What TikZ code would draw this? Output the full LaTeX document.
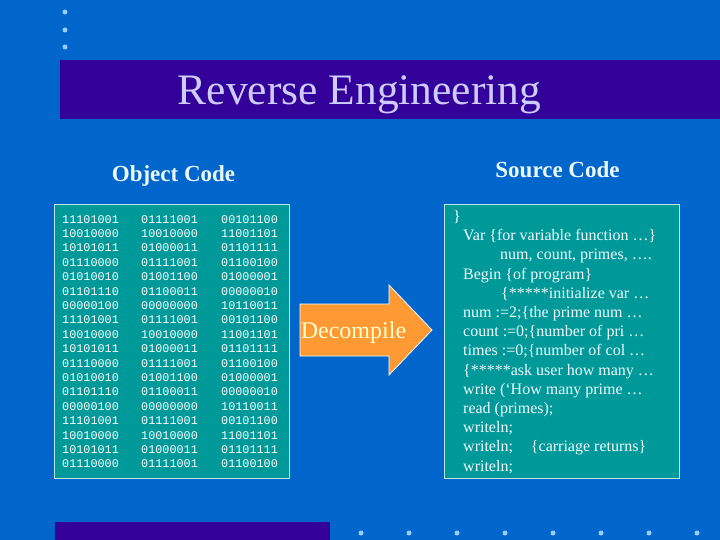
\documentclass[tikz,border=0pt]{standalone}
\usepackage{fontspec}
\setmainfont{Liberation Serif}
\setmonofont{Liberation Mono}
\usetikzlibrary{positioning}
\definecolor{slideblue}{RGB}{0, 102, 204}
\definecolor{bandpurple}{RGB}{51, 0, 153}
\definecolor{boxteal}{RGB}{0, 153, 153}
\definecolor{arroworange}{RGB}{255, 153, 51}
\definecolor{titlelav}{RGB}{204, 204, 255}
\definecolor{dotblue}{RGB}{153, 204, 255}
\definecolor{paleyellow}{RGB}{255, 255, 204}

\begin{document}
\begin{tikzpicture}[x=1pt, y=-1pt,
    codebox/.style={draw=white!75!boxteal, fill=boxteal, line width=0.8pt, minimum width=235pt, minimum height=274pt, anchor=north west, inner sep=0pt},
    heading/.style={font=\fontsize{23}{28}\selectfont\bfseries, text=white!92!cyan, anchor=base, inner sep=0pt},
    bitrow/.style={font=\ttfamily\fontsize{11.8}{14}\selectfont, text=white, anchor=base west, inner sep=0pt},
    srcline/.style={font=\fontsize{16}{19}\selectfont, text=white!94!cyan, anchor=base west, inner sep=0pt},
    dotmark/.style={circle, fill=dotblue, inner sep=0pt, minimum size=5pt},
    decarrow/.style={draw=white, fill=arroworange, line width=0.8pt, line join=miter}
  ]
  % slide background
  \fill[slideblue] (0,0) rectangle (720,540);
  \useasboundingbox (0,0) rectangle (720,540);
  \foreach \y in {12,30,47}
    \node[dotmark] (ld\y) at (65,\y) {};
  \foreach \x in {361,409,...,697}
    \node[dotmark] (bd\x) at (\x,533) {};

  % title band
  \fill[bandpurple] (60,60) rectangle (720,119);
  \fill[bandpurple] (55,522) rectangle (330,540);
  \node[font=\fontsize{43.5}{48}\selectfont, text=titlelav, anchor=base, inner sep=0pt] (title) at (359.5,105) {Reverse Engineering};

  \node[heading] (objhead) at (173.5,182) {Object Code};
  \node[heading] (srchead) at (557.5,178) {Source Code};

  % object code
  \node[codebox] (objbox) at (54,204) {};
  \foreach \a/\b/\c [count=\i from 0] in {
      11101001/01111001/00101100, 10010000/10010000/11001101,
      10101011/01000011/01101111, 01110000/01111001/01100100,
      01010010/01001100/01000001, 01101110/01100011/00000010,
      00000100/00000000/10110011,
      11101001/01111001/00101100, 10010000/10010000/11001101,
      10101011/01000011/01101111, 01110000/01111001/01100100,
      01010010/01001100/01000001, 01101110/01100011/00000010,
      00000100/00000000/10110011,
      11101001/01111001/00101100, 10010000/10010000/11001101,
      10101011/01000011/01101111, 01110000/01111001/01100100}
  {
    \node[bitrow] (bitA\i) at (62,{223+14.4*\i}) {\a};
    \node[bitrow] (bitB\i) at (141,{223+14.4*\i}) {\b};
    \node[bitrow] (bitC\i) at (221,{223+14.4*\i}) {\c};
  }

  % decompile arrow
  \draw[decarrow] (300,304) -- (389,304) -- (389,285) -- (432,330) -- (389,375) -- (389,356) -- (300,356) -- cycle;
  \node[font=\fontsize{24}{28}\selectfont, text=paleyellow, anchor=base, inner sep=0pt] (decomp) at (353.5,338) {Decompile};

  % source code
  \node[codebox] (srcbox) at (444,204) {};
  \node[srcline] (src1) at (453,221.5) {\}};
  \node[srcline] (src2) at (463,240.7) {Var \{for variable function …\}};
  \node[srcline] (src3) at (500,259.9) {num, count, primes, ….};
  \node[srcline] (src4) at (463,279.1) {Begin \{of program\}};
  \node[srcline] (src5) at (501,298.3) {\{*****initialize var …};
  \node[srcline] (src6) at (463,317.5) {num :=2;\{the prime num …};
  \node[srcline] (src7) at (463,336.7) {count :=0;\{number of pri …};
  \node[srcline] (src8) at (463,355.9) {times :=0;\{number of col …};
  \node[srcline] (src9) at (463,375.1) {\{*****ask user how many …};
  \node[srcline] (src10) at (463,394.3) {write (‘How many prime …};
  \node[srcline] (src11) at (463,413.5) {read (primes);};
  \node[srcline] (src12) at (463,432.7) {writeln;};
  \node[srcline] (src13) at (463,451.9) {writeln;\hspace{18pt}\{carriage returns\}};
  \node[srcline] (src14) at (463,471.1) {writeln;};
\end{tikzpicture}
\end{document}
